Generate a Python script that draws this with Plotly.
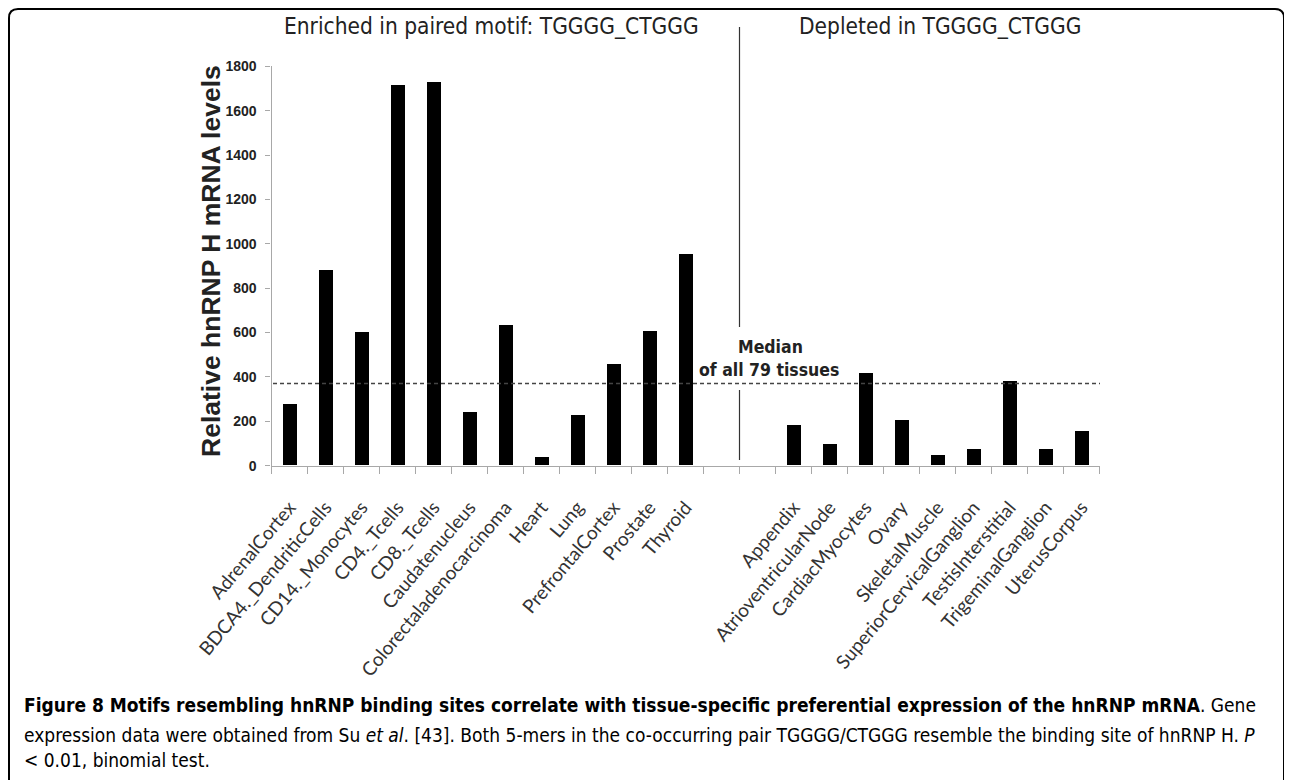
import plotly.graph_objects as go

# ---------------- data ----------------
enriched_tissues = ["AdrenalCortex", "BDCA4._DendriticCells", "CD14._Monocytes", "CD4._Tcells",
                    "CD8._Tcells", "Caudatenucleus", "Colorectaladenocarcinoma", "Heart", "Lung",
                    "PrefrontalCortex", "Prostate", "Thyroid"]
enriched_values = [278, 880, 602, 1716, 1727, 240, 631, 39, 228, 457, 604, 955]

depleted_tissues = ["Appendix", "AtrioventricularNode", "CardiacMyocytes", "Ovary", "SkeletalMuscle",
                    "SuperiorCervicalGanglion", "TestisInterstitial", "TrigeminalGanglion", "UterusCorpus"]
depleted_values = [182, 98, 415, 206, 47, 75, 380, 72, 156]

gap_slots = 2          # empty category slots between the two groups
median_all = 370       # median of all 79 tissues
y_ticks = [0, 200, 400, 600, 800, 1000, 1200, 1400, 1600, 1800]

# ---------------- layout helpers ----------------
OFF = 8                      # page body margin
W, H = 1292 - OFF, 780 - OFF
def px(x):
    return (x - OFF) / W
def py(y):
    return 1 - (y - OFF) / H

enr_x = list(range(len(enriched_tissues)))
dep_start = len(enriched_tissues) + gap_slots
dep_x = [dep_start + i for i in range(len(depleted_tissues))]
n_slots = dep_start + len(depleted_tissues)

NARROW = "Liberation Sans Narrow, Arial Narrow, DejaVu Sans Condensed, Liberation Sans, Arial"
ARIAL = "Liberation Sans, Arial, sans-serif"
AXC = "#a8a8a8"

fig = go.Figure()
fig.add_trace(go.Bar(x=enr_x, y=enriched_values, width=0.39, marker=dict(color="black", line=dict(width=0)),
                     showlegend=False))
fig.add_trace(go.Bar(x=dep_x, y=depleted_values, width=0.39, marker=dict(color="black", line=dict(width=0)),
                     showlegend=False))

fig.update_layout(
    width=W, height=H, margin=dict(l=0, r=0, t=0, b=0, autoexpand=False),
    paper_bgcolor="white", plot_bgcolor="white",
    xaxis=dict(
        domain=[px(271.5), px(1099.5)], range=[-0.5, n_slots - 0.5], automargin=False,
        tickmode="array", tickvals=enr_x + dep_x, ticktext=enriched_tissues + depleted_tissues,
        ticks="", tickangle=-50, showgrid=False, zeroline=False,
        showline=True, linecolor=AXC, linewidth=1.3,
        tickfont=dict(family="Lato, Open Sans, sans-serif", size=19, color="#333"),
        ticklabelstandoff=22,
        minor=dict(tick0=-0.5, dtick=1, ticks="outside", ticklen=7, tickcolor=AXC, tickwidth=1.3, showgrid=False),
    ),
    yaxis=dict(
        domain=[py(465.7), py(66.3)], range=[0, 1800], automargin=False,
        tickmode="array", tickvals=y_ticks, ticktext=[f"<b>{v}</b>" for v in y_ticks],
        ticks="outside", ticklen=5, tickcolor=AXC, tickwidth=1.3,
        showline=True, linecolor=AXC, linewidth=1.3, showgrid=False, zeroline=False,
        tickfont=dict(family=ARIAL, size=14, color="#222"),
        ticklabelstandoff=6,
    ),
    bargap=0,
)

shapes = []
# outer rounded frame
x0, y0, x1, y1, r = 9, 9, 1284, 800, 9
path = (f"M {px(x0)},{py(y0 + r)} Q {px(x0)},{py(y0)} {px(x0 + r)},{py(y0)} "
        f"L {px(x1 - r)},{py(y0)} Q {px(x1)},{py(y0)} {px(x1)},{py(y0 + r)} "
        f"L {px(x1)},{py(y1)} L {px(x0)},{py(y1)} Z")
shapes.append(dict(type="path", xref="paper", yref="paper", path=path, line=dict(color="black", width=2)))
# median dashed line
shapes.append(dict(type="line", xref="paper", yref="y", x0=px(273), x1=px(1100), y0=median_all, y1=median_all,
                   line=dict(color="#444", width=1.5, dash="4px,3px")))
# divider between groups
div_x = len(enriched_tissues) + gap_slots / 2 - 0.5
shapes.append(dict(type="line", xref="x", yref="paper", x0=div_x, x1=div_x, y0=py(27), y1=py(327),
                   line=dict(color="#333", width=1.2)))
shapes.append(dict(type="line", xref="x", yref="paper", x0=div_x, x1=div_x, y0=py(390), y1=py(460),
                   line=dict(color="#333", width=1.2)))
fig.update_layout(shapes=shapes)

ann = []
def text(x, y, s, size, family, color="#222", xanchor="center", angle=0):
    ann.append(dict(x=px(x), y=py(y), xref="paper", yref="paper", text=s, showarrow=False,
                    xanchor=xanchor, yanchor="middle", textangle=angle,
                    font=dict(size=size, family=family, color=color)))

text(491, 26, "Enriched in paired motif: TGGGG_CTGGG", 22.5, NARROW)
text(940, 26, "Depleted in TGGGG_CTGGG", 22.5, NARROW)
text(770, 347, "<b>Median</b>", 17.5, NARROW)
text(769, 370, "<b>of all 79 tissues</b>", 17.5, NARROW)
text(211, 261, "<b>Relative hnRNP H mRNA levels</b>", 26.5, ARIAL, angle=-90)

CAP = NARROW
text(22, 705, "<b>Figure 8 Motifs resembling hnRNP binding sites correlate with tissue-specific preferential "
              "expression of the hnRNP mRNA</b>. Gene", 19, CAP, color="black", xanchor="left")
text(22, 735, "expression data were obtained from Su <i>et al</i>. [43]. Both 5-mers in the co-occurring pair "
              "TGGGG/CTGGG resemble the binding site of hnRNP H. <i>P</i>", 19, CAP, color="black", xanchor="left")
text(22, 760, "< 0.01, binomial test.", 19, CAP, color="black", xanchor="left")
fig.update_layout(annotations=ann)

fig.write_html("out.html")
